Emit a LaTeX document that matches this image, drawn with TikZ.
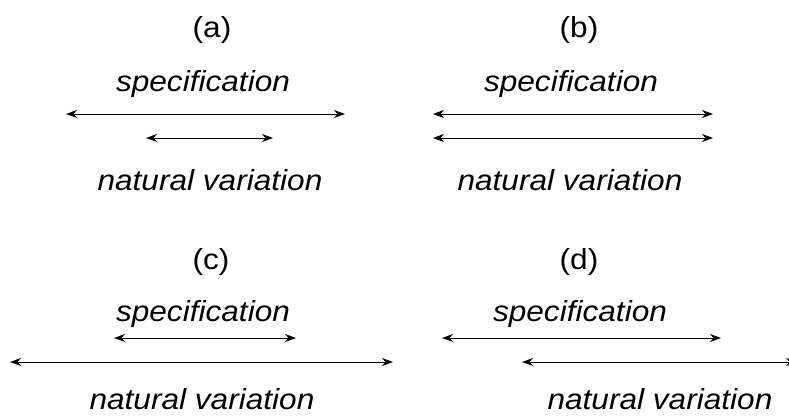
\documentclass[tikz,border=0pt]{standalone}
\usepackage{fontspec}
\setmainfont[FakeStretch=1.09]{Liberation Sans}
\usetikzlibrary{arrows.meta}
\begin{document}
\begin{tikzpicture}[x=1pt,y=-1pt,
  lbl/.style={anchor=base,inner sep=0pt,font=\fontsize{29}{32}\selectfont},
  itl/.style={anchor=base,inner sep=0pt,font=\fontsize{29}{32}\selectfont\itshape},
  rng/.style={line width=0.9pt,{Stealth[length=11pt,width=8pt,inset=3.5pt]}-{Stealth[length=11pt,width=8pt,inset=3.5pt]}}]
\useasboundingbox (0,0) rectangle (789,416);
% labels
\node[lbl] (la) at (212,37) {(a)};
\node[lbl] (lb) at (579,37) {(b)};
\node[lbl] (lc) at (211,269) {(c)};
\node[lbl] (ld) at (579,269) {(d)};
\node[itl] (sa) at (203,91) {specification};
\node[itl] (sb) at (571,91) {specification};
\node[itl] (sc) at (203,321) {specification};
\node[itl] (sd) at (580,321) {specification};
\node[itl] (na) at (210,190) {natural variation};
\node[itl] (nb) at (570,190) {natural variation};
\node[itl] (nc) at (202,409) {natural variation};
\node[itl] (nd) at (660,409) {natural variation};
% arrow ends
\coordinate (a1l) at (66,114);  \coordinate (a1r) at (345,114);
\coordinate (a2l) at (146,138); \coordinate (a2r) at (273,138);
\coordinate (b1l) at (433,114); \coordinate (b1r) at (713,114);
\coordinate (b2l) at (433,138); \coordinate (b2r) at (713,138);
\coordinate (c1l) at (114,338); \coordinate (c1r) at (296,338);
\coordinate (c2l) at (10,362);  \coordinate (c2r) at (393,362);
\coordinate (d1l) at (442,338); \coordinate (d1r) at (721,338);
\coordinate (d2l) at (522,362); \coordinate (d2r) at (797,362);
\draw[rng] (a1l) -- (a1r);
\draw[rng] (a2l) -- (a2r);
\draw[rng] (b1l) -- (b1r);
\draw[rng] (b2l) -- (b2r);
\draw[rng] (c1l) -- (c1r);
\draw[rng] (c2l) -- (c2r);
\draw[rng] (d1l) -- (d1r);
\draw[rng] (d2l) -- (d2r);
\end{tikzpicture}
\end{document}
